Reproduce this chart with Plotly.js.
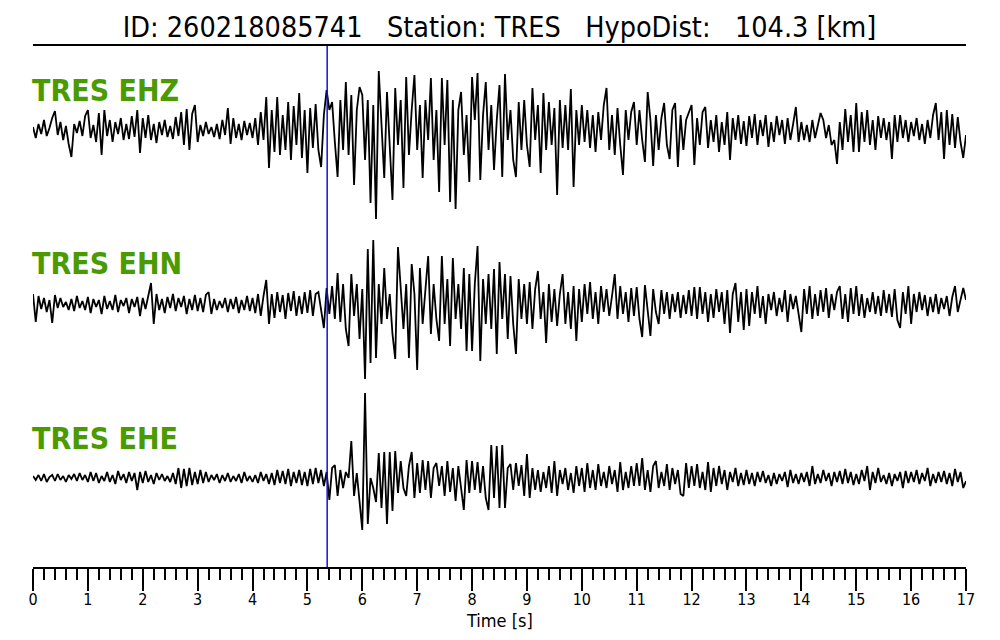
<!DOCTYPE html>
<html>
<head>
<meta charset="utf-8">
<script src="https://cdn.plot.ly/plotly-3.0.1.min.js"></script>
<style>html,body{margin:0;padding:0;background:#fff;}#chart{width:1000px;height:640px;}</style>
</head>
<body>
<div id="chart"></div>
<script>
// Sample interval of the traces (seconds) and the pick time
const sampleStep = 0.05;
const pickTime = 5.36;
const stationName = "TRES";
const channels = ["EHZ", "EHN", "EHE"];

// Trace amplitudes (relative units, positive = up), one value per 0.05 s from 0 to 17 s
const ehz = [
  3, -8, 6, -4, 10, -6, 2, 12, 19, -5, 8, -10, 4, -14, -27, 6, -3, 9, -6, 14,
  20, -8, 5, -12, 17, -25, 20, -6, 10, -12, 8, -4, 12, -10, 6, -9, 14, -7, 20, -23,
  12, -8, 15, -10, 6, -13, 8, -5, 10, -7, 4, -9, 13, -6, 18, -15, 21, -20, 16, 25,
  -12, 5, -6, 8, -4, 3, -7, 6, -9, 10, -5, 22, -14, 12, -8, 6, -10, 9, -5, 7,
  -8, 12, -15, 18, -10, 33, -38, 20, -22, 33, -25, 15, -20, 28, -30, 24, -15, 37, -28, 20,
  -43, 22, -18, 26, -20, -37, 15, 40, 20, 28, -12, -47, 30, -20, 48, -25, 35, -55, 20, 43,
  35, -30, 30, -73, 25, -89, 59, 10, -48, 38, -20, -70, 42, -15, 30, -58, 53, -25, 20, 55,
  -20, 25, -48, 30, -10, 52, -30, 20, -62, 52, -15, 50, -72, 30, -79, 20, 38, -25, 15, -52,
  53, 10, 57, -50, 15, 48, -20, 25, -40, 10, 45, -47, 56, -10, 20, -30, -47, 28, -20, 30,
  -15, -37, 42, -10, 25, -43, 37, -20, 28, -15, 22, -65, 30, -18, 25, -20, 41, -57, 20, -15,
  25, -12, 20, -18, 15, -22, 18, -10, 25, 42, -20, 15, -25, 22, -15, -45, 20, -10, 18, 28,
  -15, 20, -10, -32, 38, 10, -36, 15, -20, 12, 27, -15, -29, 20, 27, -37, 15, -20, 10, 18,
  25, -35, 12, -15, 18, 23, -18, 10, -12, 15, -22, 8, -15, 18, -30, 12, -10, 15, -14, 9,
  -16, 14, -8, 16, -15, 10, -6, 15, -17, 8, -12, 14, -5, 10, -14, 12, -10, 6, 23, -12,
  8, -10, 5, -12, 10, -8, 6, 17, 10, -8, 5, -15, -10, -34, 8, -20, 21, -12, 15, -22,
  27, -22, 18, -12, 20, -15, 10, -20, 14, -8, 12, -10, 8, -29, 15, -12, 15, -8, 10, -12,
  8, -6, 12, -10, 6, -14, 10, -8, 15, 27, -10, 18, -29, 20, -15, 16, -18, 13, -12, -28, -5
];

const ehn = [
  10, -18, 8, -5, 6, -8, 4, -19, 9, -4, 6, -3, 2, -6, 5, -7, 8, -4, 3, -6,
  7, -9, 5, -3, 4, -10, 8, -5, 3, -6, 9, -8, 4, -2, 6, -9, 5, -3, 7, -12,
  6, -5, 8, 21, -20, 10, -6, 5, -9, 7, -4, 10, -7, 6, -3, 8, -10, 5, -6, 9,
  -7, 6, -8, 9, 12, -10, 5, -6, 3, -4, 6, -8, 5, -5, 7, -9, 4, -6, 8, -7,
  6, -9, 10, -12, 8, 24, -20, 10, -14, 12, -8, 9, -15, 11, -7, 13, -12, 8, -10, 12,
  -9, 14, -12, 10, 12, -8, -24, 16, -10, 18, -15, 31, -18, 20, -25, -42, 30, -12, 20, -35,
  15, -75, 55, -59, 64, -54, 20, -20, 36, -15, 10, -30, -55, 57, 15, -25, 20, -54, 40, 10,
  -66, 36, -20, 15, 48, -30, 20, -15, -37, 48, -20, 25, -42, 46, -15, 20, -25, 36, -47, 30,
  -47, 20, 58, -57, 25, -20, 30, -25, 35, -50, 42, -15, 30, -35, 28, -20, -50, 25, -15, 20,
  -20, 22, -25, 15, 33, -15, 12, -39, 20, -18, 15, -22, 10, 30, -20, 12, -25, 18, -37, 15,
  -18, 20, -10, 22, -15, 12, -20, 18, -8, 15, -12, 8, 30, -15, 18, -10, 12, -18, 16, -12,
  17, -15, -33, 19, -10, -32, 15, -8, -20, 14, -10, 12, -15, 10, -8, 12, -14, 9, -10, 14,
  -12, 17, -15, 17, -10, 12, -18, 10, -14, 15, -8, 12, -20, 14, -29, 10, 21, -18, 12, -26,
  15, -22, 12, -10, 18, -14, 8, -20, 10, -6, 12, -12, 6, -8, 14, -18, 10, -5, 8, -12,
  -28, 15, -10, 18, -15, 10, -12, 14, -8, 16, -14, 10, -6, 12, 18, -15, 10, -18, 16, -10,
  18, -12, 10, -14, 6, -8, 12, -10, 8, -12, 14, -9, 10, -13, 15, -16, -24, 12, -10, 18,
  -20, 10, -8, 12, -6, 9, -12, 7, -8, 10, -10, 6, -5, 8, -12, 7, 18, -8, 5, 16, 4
];

const ehe = [
  2, -2, 3, -3, 4, -4, 1, 3, -3, 4, -2, 2, -4, 3, -1, 4, -3, 5, -2, 3,
  -4, 6, -3, 5, -5, 2, -3, 6, -4, 3, -6, 7, -2, 4, -5, 6, -3, 5, -12, 6,
  -5, 7, -4, 3, -6, 5, -2, 4, -3, 2, -4, 5, -6, 10, -10, 9, -8, 10, -7, 6,
  -6, 8, -5, 6, -4, 3, -2, 4, -5, 3, -3, 5, -4, 2, -3, 4, -5, 6, -3, 2,
  -4, 3, -5, 6, -3, 4, -6, 5, -7, 8, -5, 7, -6, 9, -8, 6, -5, 8, -7, 6,
  -8, 9, -6, 10, -5, 8, -8, 6, -22, 10, 13, -18, 8, -10, 6, 0, 37, -18, 5, -28,
  -52, 85, -46, 0, -10, -24, 25, -30, 26, -46, 26, -33, 27, -15, 17, -10, -18, 12, 26, -20,
  15, -15, 18, -12, 17, -20, 10, 15, -8, 12, -18, 17, -14, 10, -23, 12, -10, -32, 18, -15,
  17, -12, 16, -15, 12, -20, -32, 33, -20, 32, -30, 33, -30, 10, 14, -12, 15, -8, 13, -18,
  24, -20, 10, -12, 8, -14, 6, -10, 12, -15, 17, -18, 8, -6, 10, -12, 5, -15, 12, -8,
  10, -14, 15, -10, 8, -12, 14, -8, 6, -10, 12, -6, 8, -14, 16, -12, 6, -10, 12, -8,
  15, -8, 20, -12, 8, -14, 12, 17, -10, 6, -8, 14, -12, 10, -6, 8, -16, -18, 15, -10,
  12, -8, 14, -10, 6, -12, 16, -14, 10, -8, 12, -6, 8, -12, 6, -4, 10, -8, 5, -7,
  8, -6, 5, -8, 6, -4, 7, -5, 3, -8, 5, -6, 4, -3, 6, -9, 8, -5, 4, -6,
  5, -4, 6, -8, 12, -6, 4, -5, 8, -3, 5, -8, 6, -4, 7, -6, 9, -5, 6, -7,
  4, -6, 8, -3, 12, -12, 6, -5, 10, -4, 3, -6, 5, -8, 4, -3, 6, -10, 7, -5,
  6, -4, 8, -6, 5, -3, 10, -8, 4, -5, 6, -4, 7, -6, 5, -8, 9, -4, 6, -10, -3
];

const traces = [ehz, ehn, ehe];
// vertical placement of each trace (axis units) and of its label
const baselines = [437, 263, 89];
const labelY = [477, 303.5, 129];

const FONT = "'DejaVu Sans Condensed', 'DejaVu Sans', sans-serif";

const data = traces.map((vals, i) => ({
  type: 'scatter',
  mode: 'lines',
  x0: 0,
  dx: sampleStep,
  y: vals.map(v => v + baselines[i]),
  line: {color: '#000000', width: 1.8},
  hoverinfo: 'skip',
  showlegend: false
}));

const annotations = channels.map((ch, i) => ({
  text: stationName + ' ' + ch,
  x: 0, xref: 'x', xanchor: 'left', xshift: -3,
  y: labelY[i], yref: 'y', yanchor: 'middle',
  showarrow: false,
  font: {family: FONT, size: 30, color: '#4a9a00', weight: 'bold'}
}));

annotations.push({
  text: 'Time [s]',
  x: 0.5, xref: 'paper', xanchor: 'center',
  y: -53 / 521, yref: 'paper', yanchor: 'middle',
  showarrow: false,
  font: {family: FONT, size: 18, color: '#000000'}
});

const layout = {
  width: 1000, height: 640,
  margin: {l: 33, r: 34, t: 46, b: 73},
  paper_bgcolor: '#ffffff', plot_bgcolor: '#ffffff',
  font: {family: FONT, color: '#000000'},
  title: {
    text: 'ID: 260218085741\u00a0\u00a0\u00a0Station: TRES\u00a0\u00a0\u00a0HypoDist:\u00a0\u00a0\u00a0104.3 [km]',
    font: {family: FONT, size: 28.5, color: '#000000'},
    x: 0.5, xref: 'paper', xanchor: 'center',
    y: 1 - 27 / 640, yref: 'container', yanchor: 'middle'
  },
  xaxis: {
    range: [0, 17],
    showgrid: false, zeroline: false,
    showline: true, linecolor: '#000000', linewidth: 2, mirror: true,
    ticks: 'outside', ticklen: 22, tickwidth: 2, tickcolor: '#000000',
    tick0: 0, dtick: 1,
    minor: {dtick: 0.2, ticks: 'outside', ticklen: 11, tickwidth: 2, tickcolor: '#000000', showgrid: false},
    tickfont: {family: FONT, size: 16, color: '#000000'},
    ticklabelstandoff: -5,
    fixedrange: true
  },
  yaxis: {range: [0, 521], visible: false, fixedrange: true},
  shapes: [{
    type: 'line', xref: 'x', yref: 'paper',
    x0: pickTime, x1: pickTime, y0: 0, y1: 1,
    line: {color: '#1010e0', width: 1.5}
  }],
  annotations: annotations
};

Plotly.newPlot('chart', data, layout, {staticPlot: true, displayModeBar: false});
</script>
</body>
</html>
